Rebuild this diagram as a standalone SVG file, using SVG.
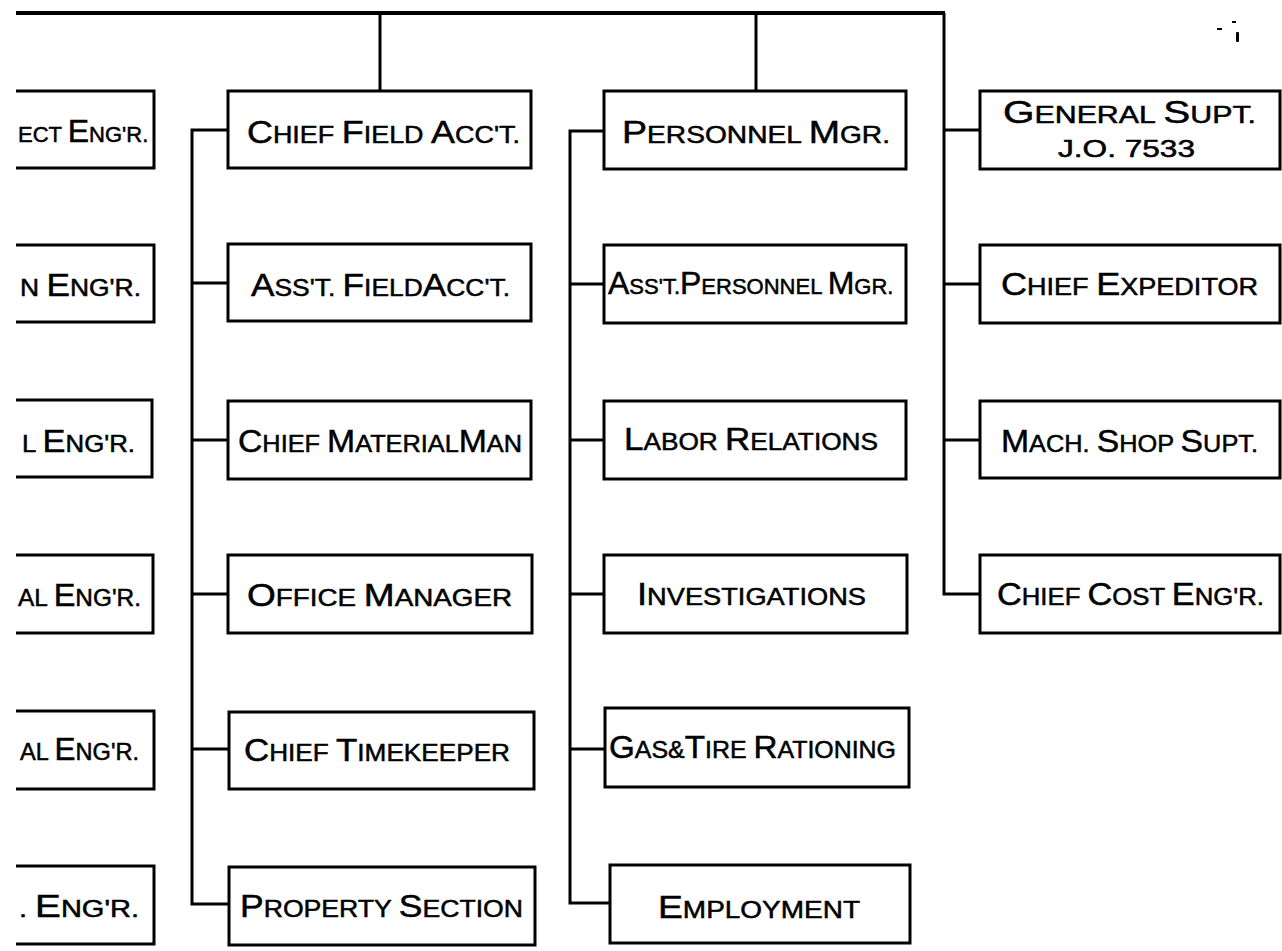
<svg xmlns="http://www.w3.org/2000/svg" width="1282" height="951" viewBox="0 0 1282 951">
<style>
.box{fill:#fff;stroke:#000;stroke-width:3;stroke-linejoin:miter}
.wire{fill:none;stroke:#000;stroke-width:3;stroke-linejoin:miter}
.top{fill:none;stroke:#000;stroke-width:4}
.speck{fill:#000;stroke:none}
text{font-family:"Liberation Sans",Arial,sans-serif;fill:#000;stroke:#000;stroke-width:0.5}
.L{font-size:32px}
.S{font-size:24px}
.T{font-size:22px}
.J{font-size:23px}
</style>
<rect width="1282" height="951" fill="#fff"/>
<g id="connectors">
<path class="top" d="M16,13 H945"/>
<path class="wire" d="M380,13 V91"/>
<path class="wire" d="M756,13 V91"/>
<path class="wire" d="M944,13 V594 H979"/>
<path class="wire" d="M944,130 H979 M944,284 H979 M944,440 H979"/>
<path class="wire" d="M228,130 H192 V904 H229"/>
<path class="wire" d="M192,283 H228 M192,440 H228 M192,594 H228 M192,749 H229"/>
<path class="wire" d="M604,131 H570 V903 H610"/>
<path class="wire" d="M570,284 H604 M570,440 H604 M570,594 H604 M570,749 H605"/>
</g>
<g id="marks"><rect class="speck" x="1236" y="32" width="3" height="10" rx="1"/><rect class="speck" x="1232" y="21" width="4" height="2"/><rect class="speck" x="1217" y="28" width="5" height="2"/></g>
<g id="colA1"><path class="box" d="M16,91 H154 V168 H16"/><text x="18" y="142"><tspan class="T">ECT </tspan><tspan class="L">E</tspan><tspan class="T">NG'R.</tspan></text></g>
<g id="colA2"><path class="box" d="M16,245 H154 V322 H16"/><text x="20" y="296" textLength="121" lengthAdjust="spacingAndGlyphs"><tspan class="S">N </tspan><tspan class="L">E</tspan><tspan class="S">NG'R.</tspan></text></g>
<g id="colA3"><path class="box" d="M16,400 H152 V477 H16"/><text x="22" y="452" textLength="113" lengthAdjust="spacingAndGlyphs"><tspan class="S">L </tspan><tspan class="L">E</tspan><tspan class="S">NG'R.</tspan></text></g>
<g id="colA4"><path class="box" d="M16,555 H153 V633 H16"/><text x="18" y="606" textLength="123" lengthAdjust="spacingAndGlyphs"><tspan class="S">AL </tspan><tspan class="L">E</tspan><tspan class="S">NG'R.</tspan></text></g>
<g id="colA5"><path class="box" d="M16,711 H154 V789 H16"/><text x="20" y="760" textLength="119" lengthAdjust="spacingAndGlyphs"><tspan class="S">AL </tspan><tspan class="L">E</tspan><tspan class="S">NG'R.</tspan></text></g>
<g id="colA6"><path class="box" d="M16,866 H154 V944 H16"/><text x="19" y="917" textLength="120" lengthAdjust="spacingAndGlyphs"><tspan class="S">. </tspan><tspan class="L">E</tspan><tspan class="S">NG'R.</tspan></text></g>

<g id="chief-field-acct"><rect class="box" x="228" y="91" width="303" height="77"/><text x="247" y="143" textLength="273" lengthAdjust="spacingAndGlyphs"><tspan class="L">C</tspan><tspan class="S">HIEF </tspan><tspan class="L">F</tspan><tspan class="S">IELD </tspan><tspan class="L">A</tspan><tspan class="S">CC'T.</tspan></text></g>
<g id="asst-field-acct"><rect class="box" x="228" y="244" width="303" height="77"/><text x="251" y="296" textLength="259" lengthAdjust="spacingAndGlyphs"><tspan class="L">A</tspan><tspan class="S">SS'T. </tspan><tspan class="L">F</tspan><tspan class="S">IELD</tspan><tspan class="L">A</tspan><tspan class="S">CC'T.</tspan></text></g>
<g id="chief-material-man"><rect class="box" x="228" y="401" width="303" height="78"/><text x="238" y="452" textLength="284" lengthAdjust="spacingAndGlyphs"><tspan class="L">C</tspan><tspan class="S">HIEF </tspan><tspan class="L">M</tspan><tspan class="S">ATERIAL</tspan><tspan class="L">M</tspan><tspan class="S">AN</tspan></text></g>
<g id="office-manager"><rect class="box" x="228" y="555" width="304" height="78"/><text x="247" y="606" textLength="265" lengthAdjust="spacingAndGlyphs"><tspan class="L">O</tspan><tspan class="S">FFICE  </tspan><tspan class="L">M</tspan><tspan class="S">ANAGER</tspan></text></g>
<g id="chief-timekeeper"><rect class="box" x="229" y="712" width="305" height="77"/><text x="244" y="761" textLength="266" lengthAdjust="spacingAndGlyphs"><tspan class="L">C</tspan><tspan class="S">HIEF </tspan><tspan class="L">T</tspan><tspan class="S">IMEKEEPER</tspan></text></g>
<g id="property-section"><rect class="box" x="229" y="867" width="306" height="78"/><text x="240" y="917" textLength="283" lengthAdjust="spacingAndGlyphs"><tspan class="L">P</tspan><tspan class="S">ROPERTY </tspan><tspan class="L">S</tspan><tspan class="S">ECTION</tspan></text></g>

<g id="personnel-mgr"><rect class="box" x="604" y="91" width="302" height="78"/><text x="622" y="143" textLength="268" lengthAdjust="spacingAndGlyphs"><tspan class="L">P</tspan><tspan class="S">ERSONNEL  </tspan><tspan class="L">M</tspan><tspan class="S">GR.</tspan></text></g>
<g id="asst-personnel-mgr"><rect class="box" x="604" y="245" width="302" height="78"/><text x="608" y="294"><tspan class="L">A</tspan><tspan class="T">SS'T.</tspan><tspan class="L">P</tspan><tspan class="T">ERSONNEL </tspan><tspan class="L">M</tspan><tspan class="T">GR.</tspan></text></g>
<g id="labor-relations"><rect class="box" x="604" y="401" width="302" height="78"/><text x="624" y="450" textLength="254" lengthAdjust="spacingAndGlyphs"><tspan class="L">L</tspan><tspan class="S">ABOR </tspan><tspan class="L">R</tspan><tspan class="S">ELATIONS</tspan></text></g>
<g id="investigations"><rect class="box" x="604" y="555" width="303" height="78"/><text x="637" y="605" textLength="229" lengthAdjust="spacingAndGlyphs"><tspan class="L">I</tspan><tspan class="S">NVESTIGATIONS</tspan></text></g>
<g id="gas-tire-rationing"><rect class="box" x="605" y="708" width="304" height="79"/><text x="609" y="758" textLength="287" lengthAdjust="spacingAndGlyphs"><tspan class="L">G</tspan><tspan class="S">AS&amp;</tspan><tspan class="L">T</tspan><tspan class="S">IRE </tspan><tspan class="L">R</tspan><tspan class="S">ATIONING</tspan></text></g>
<g id="employment"><rect class="box" x="610" y="865" width="300" height="78"/><text x="658" y="918" textLength="202" lengthAdjust="spacingAndGlyphs"><tspan class="L">E</tspan><tspan class="S">MPLOYMENT</tspan></text></g>

<g id="general-supt"><rect class="box" x="980" y="91" width="300" height="78"/><text x="1003" y="123" textLength="253" lengthAdjust="spacingAndGlyphs"><tspan class="L">G</tspan><tspan class="S">ENERAL  </tspan><tspan class="L">S</tspan><tspan class="S">UPT.</tspan></text><text class="J" x="1058" y="157" textLength="137" lengthAdjust="spacingAndGlyphs">J.O. 7533</text></g>
<g id="chief-expeditor"><rect class="box" x="980" y="245" width="300" height="78"/><text x="1001" y="295" textLength="257" lengthAdjust="spacingAndGlyphs"><tspan class="L">C</tspan><tspan class="S">HIEF </tspan><tspan class="L">E</tspan><tspan class="S">XPEDITOR</tspan></text></g>
<g id="mach-shop-supt"><rect class="box" x="980" y="401" width="300" height="77"/><text x="1001" y="452" textLength="257" lengthAdjust="spacingAndGlyphs"><tspan class="L">M</tspan><tspan class="S">ACH. </tspan><tspan class="L">S</tspan><tspan class="S">HOP </tspan><tspan class="L">S</tspan><tspan class="S">UPT.</tspan></text></g>
<g id="chief-cost-engr"><rect class="box" x="980" y="555" width="300" height="78"/><text x="997" y="605" textLength="267" lengthAdjust="spacingAndGlyphs"><tspan class="L">C</tspan><tspan class="S">HIEF </tspan><tspan class="L">C</tspan><tspan class="S">OST </tspan><tspan class="L">E</tspan><tspan class="S">NG'R.</tspan></text></g>
</svg>
